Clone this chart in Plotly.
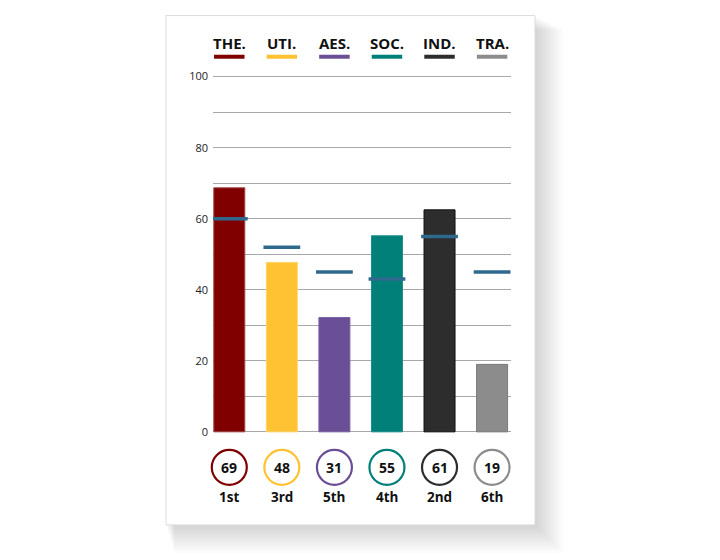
import plotly.graph_objects as go

categories = ["THE.", "UTI.", "AES.", "SOC.", "IND.", "TRA."]
bar_values = [68.7, 47.7, 32.2, 55.2, 62.5, 19.0]
marker_values = [60, 52, 45, 43, 55, 45]
score_labels = ["69", "48", "31", "55", "61", "19"]
rank_labels = ["1st", "3rd", "5th", "4th", "2nd", "6th"]
colors = ["#800000", "#FFC232", "#6A4F96", "#008079", "#2D2D2D", "#8C8C8C"]
edge_colors = ["#A04848", "#FFD468", "#7A62A6", "#1A908A", "#111111", "#7A7A7A"]
tick_vals = [0, 20, 40, 60, 80, 100]
minor_vals = [10, 30, 50, 70, 90]

FONT = "Open Sans"
xs = list(range(len(categories)))

# layout geometry (figure pixels)
Y0, Y1 = -22, 112
K = 3.55                      # pixels per y unit
L, R = 205, 503
T = 69 - (Y1 - 100) * K
B = 424 + (0 - Y0) * K
W, H = R - L, B - T
XR = [-0.31, 5.36]

def ppx(p):
    return (p - L) / W

def ppy(p):
    return (B - p) / H

fig = go.Figure()

fig.add_trace(go.Bar(
    x=xs, y=bar_values, width=0.59,
    marker=dict(color=colors, line=dict(color=edge_colors, width=1)),
    hoverinfo="skip", showlegend=False,
))

mx, my = [], []
for i, v in zip(xs, marker_values):
    mx += [i - 0.35, i + 0.35, None]
    my += [v, v, None]
fig.add_trace(go.Scatter(
    x=mx, y=my, mode="lines", line=dict(color="#2F6A8E", width=3.5),
    cliponaxis=False, hoverinfo="skip", showlegend=False,
))

# legend underlines
for i, c in zip(xs, colors):
    fig.add_trace(go.Scatter(
        x=[i - 0.29, i + 0.29], y=[105.6, 105.6], mode="lines",
        line=dict(color=c, width=4), cliponaxis=False,
        hoverinfo="skip", showlegend=False,
    ))

# score circles
fig.add_trace(go.Scatter(
    x=xs, y=[-10] * len(xs), mode="markers",
    marker=dict(symbol="circle", size=35, color="white",
                line=dict(color=colors, width=2.2)),
    cliponaxis=False, hoverinfo="skip", showlegend=False,
))

shapes = []
# soft shadow
for k in range(14):
    d = 28 - k * 2
    shapes.append(dict(type="rect", xref="paper", yref="paper",
                       x0=ppx(166 - 8 + d * 0.3), x1=ppx(535 - 8 + d),
                       y0=ppy(525 - 8 + d), y1=ppy(16 - 8 + d * 0.5),
                       fillcolor="rgba(0,0,0,0.011)", line=dict(width=0), layer="below"))
# card
shapes.append(dict(type="rect", xref="paper", yref="paper",
                   x0=ppx(166 - 8), x1=ppx(535 - 8), y0=ppy(525 - 8), y1=ppy(16 - 8),
                   fillcolor="white", line=dict(color="#DCDCDC", width=1), layer="below"))

annotations = []
def ann(x, y, txt, size):
    annotations.append(dict(x=x, y=y, xref="x", yref="y", text="<b>%s</b>" % txt,
                            xanchor="center", yanchor="middle", showarrow=False,
                            font=dict(family=FONT, size=size, color="#111111")))

for i, cat in zip(xs, categories):
    ann(i, 109.4, cat, 15)
for i, s in zip(xs, score_labels):
    ann(i, -10, s, 14)
for i, r in zip(xs, rank_labels):
    ann(i, -18.4, r, 13.5)

fig.update_layout(
    width=720, height=560,
    margin=dict(l=L, r=720 - R, t=T, b=560 - B, pad=0),
    paper_bgcolor="white", plot_bgcolor="rgba(0,0,0,0)",
    xaxis=dict(range=XR, showgrid=False, zeroline=False,
               showticklabels=False, fixedrange=True),
    yaxis=dict(range=[Y0, Y1], tickvals=tick_vals, showgrid=True,
               gridcolor="#A8A8A8", gridwidth=1.4, zeroline=False,
               showline=False, ticks="", ticklabelstandoff=4,
               minor=dict(tickvals=minor_vals, showgrid=True,
                          gridcolor="#A8A8A8", gridwidth=1.4, ticks=""),
               tickfont=dict(family=FONT, size=11, color="#222222")),
    shapes=shapes, annotations=annotations,
)

fig.write_html("out.html")
